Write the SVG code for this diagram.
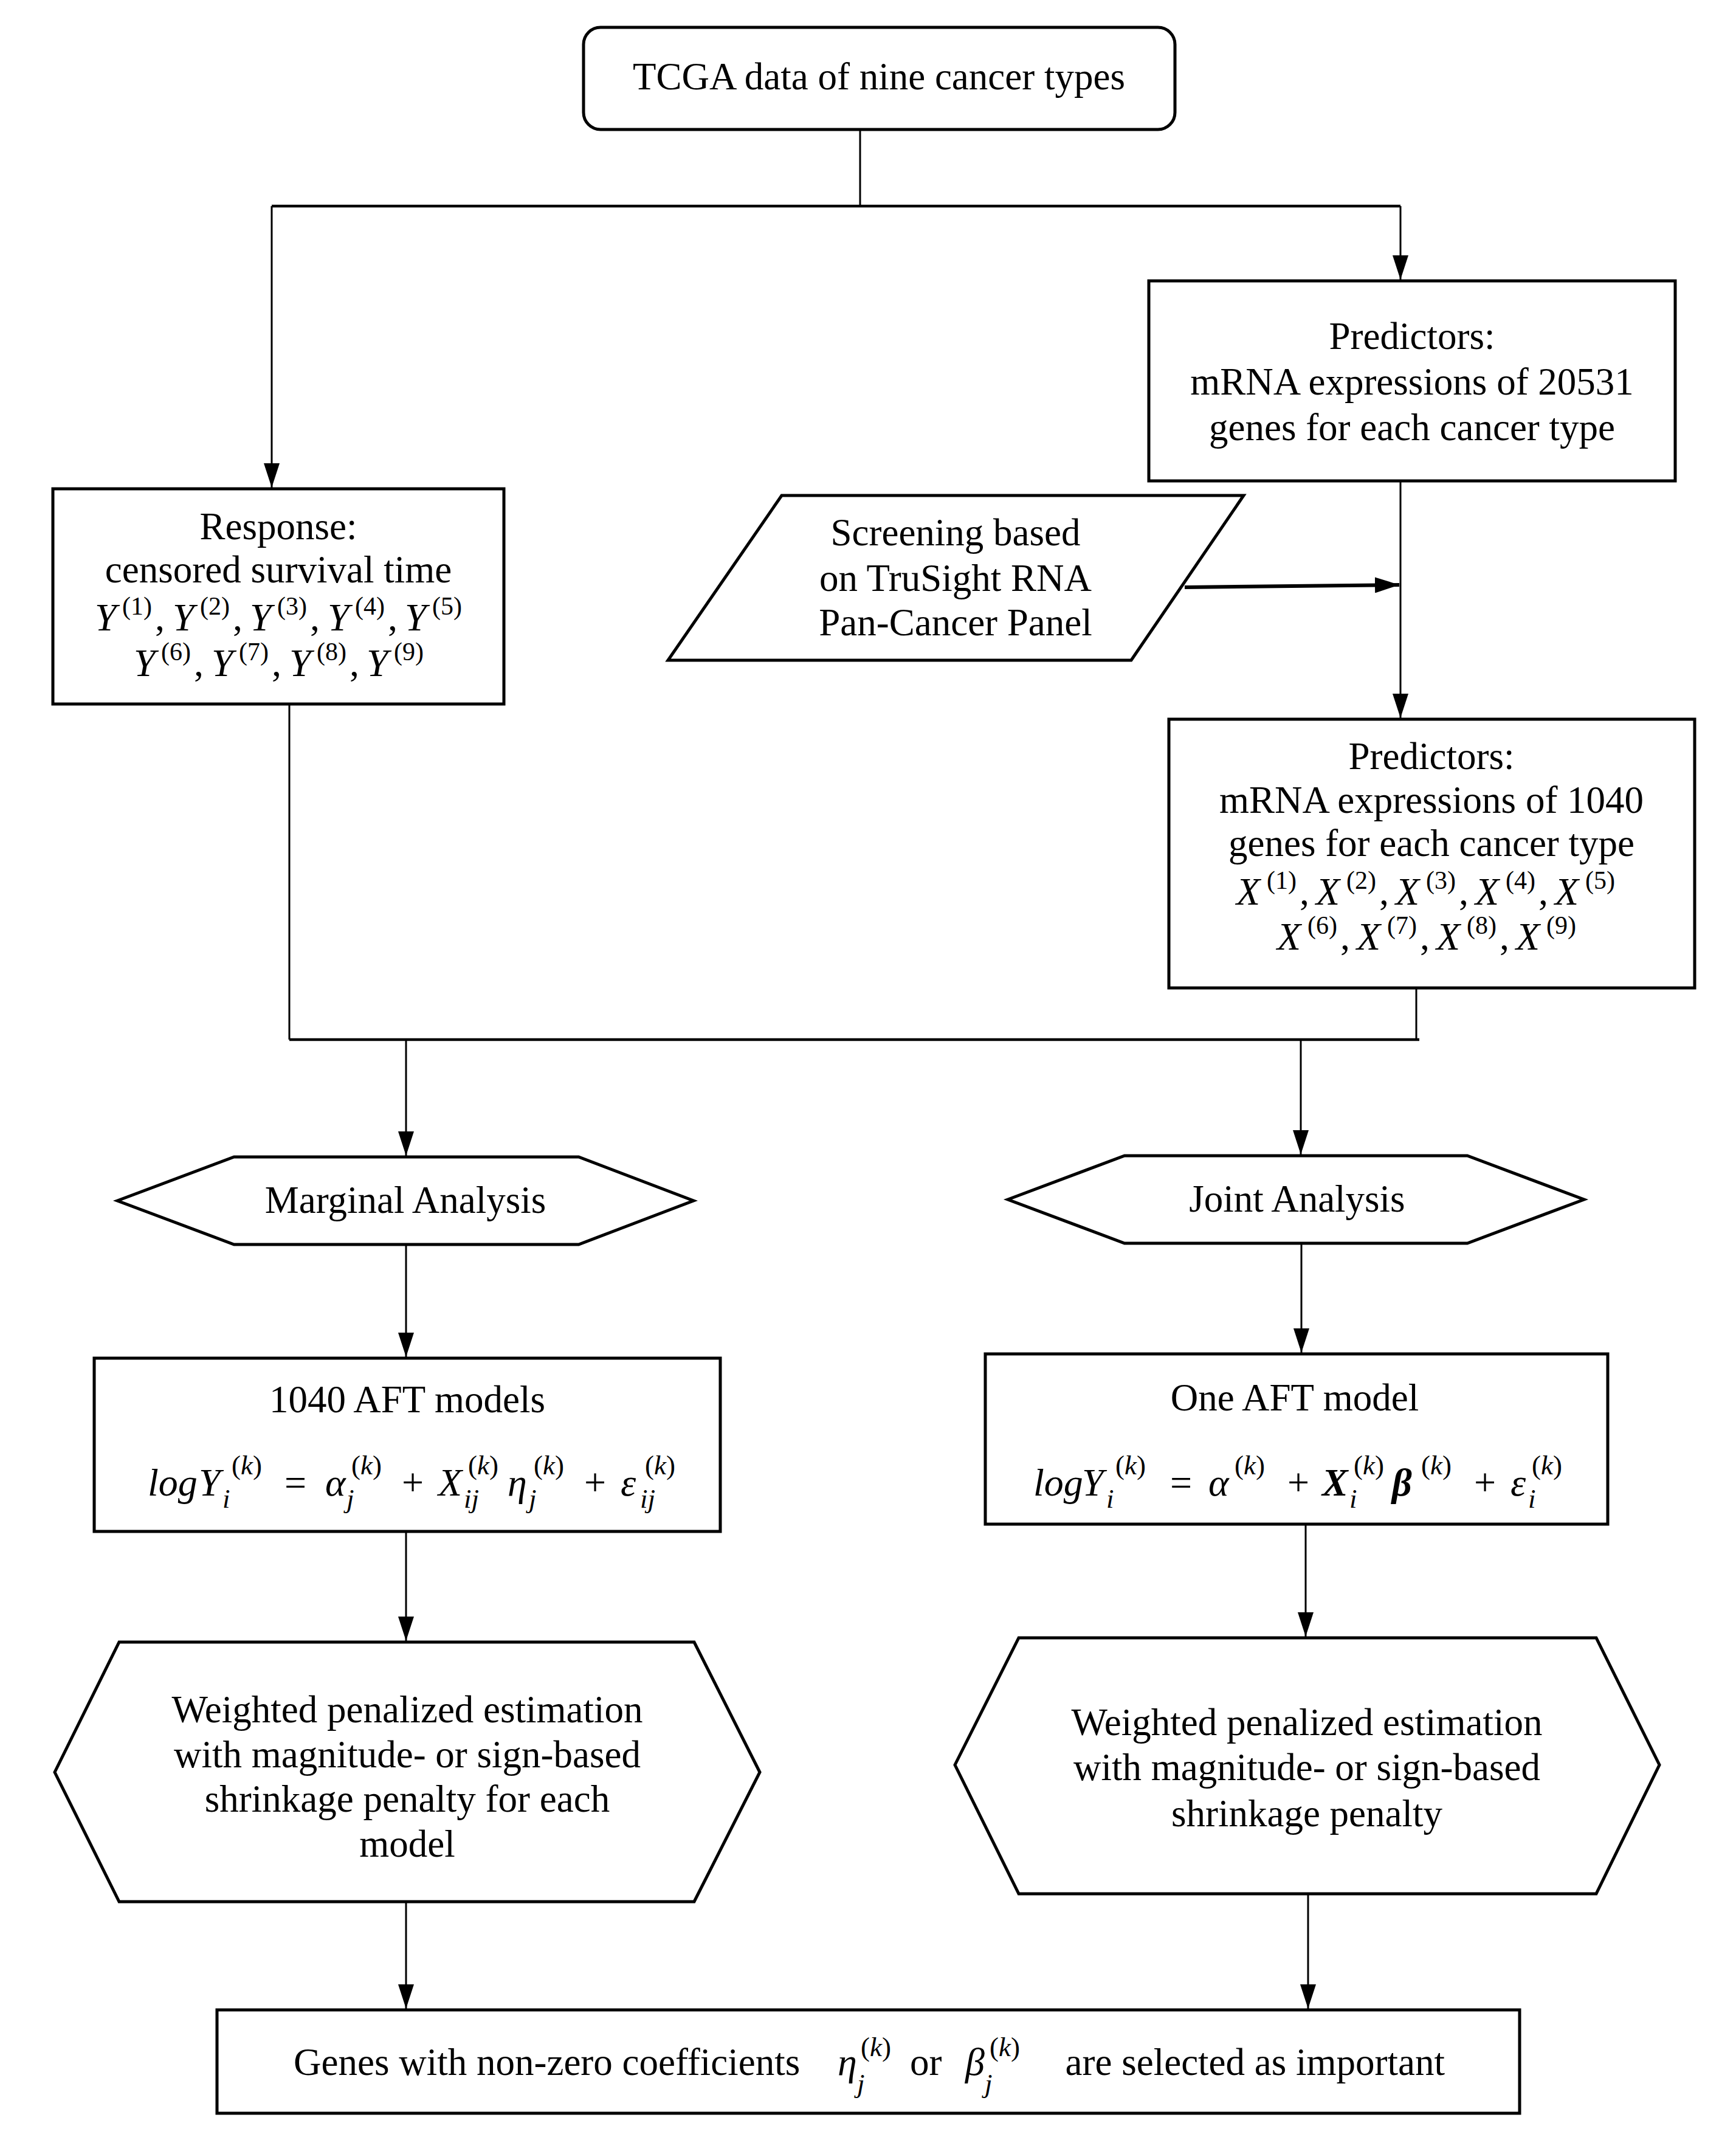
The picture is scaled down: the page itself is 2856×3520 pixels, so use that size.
<svg xmlns="http://www.w3.org/2000/svg" width="2856" height="3520" viewBox="0 0 2856 3520">
<style>
.t{font-family:"Liberation Serif","Times New Roman",serif;font-size:63px;fill:#000}
.c{text-anchor:middle}
.m{font-family:"Liberation Serif","Times New Roman",serif;font-size:64px;font-style:italic;fill:#000}
.s{font-size:42px}
.k{font-size:45px}
.u{font-style:normal}
.b{font-weight:bold}
.box{fill:#fff;stroke:#000;stroke-width:5}
.ln{fill:none;stroke:#000;stroke-width:3}
.lt{fill:none;stroke:#000;stroke-width:4.5}
</style>
<defs>
<marker id="ah" markerUnits="userSpaceOnUse" markerWidth="40" markerHeight="26" refX="40" refY="13" orient="auto" viewBox="0 0 40 26"><path d="M0,0 L40,13 L0,26 z" fill="#000"/></marker>
</defs>
<rect width="2856" height="3520" fill="#fff"/>

<g id="connectors">
<path class="ln" d="M1415,213 V339"/>
<path class="lt" d="M447,339 H2304"/>
<path class="ln" d="M447,339 V802" marker-end="url(#ah)"/>
<path class="ln" d="M2304,339 V460" marker-end="url(#ah)"/>
<path class="ln" d="M2304,791 V1181" marker-end="url(#ah)"/>
<path d="M1949,966 L2302,962" fill="none" stroke="#000" stroke-width="6" marker-end="url(#ah)"/>
<path class="ln" d="M476,1158 V1710"/>
<path class="ln" d="M2330,1625 V1710"/>
<path class="lt" d="M476,1710 H2335"/>
<path class="ln" d="M668,1710 V1901" marker-end="url(#ah)"/>
<path class="ln" d="M2140,1710 V1899" marker-end="url(#ah)"/>
<path class="ln" d="M668,2047 V2232" marker-end="url(#ah)"/>
<path class="ln" d="M2141,2045 V2225" marker-end="url(#ah)"/>
<path class="ln" d="M668,2519 V2699" marker-end="url(#ah)"/>
<path class="ln" d="M2148,2507 V2692" marker-end="url(#ah)"/>
<path class="ln" d="M668,3128 V3304" marker-end="url(#ah)"/>
<path class="ln" d="M2152,3115 V3304" marker-end="url(#ah)"/>
</g>

<g id="tcga">
<rect class="box" x="960" y="45" width="973" height="168" rx="28"/>
<text class="t c" x="1446" y="147">TCGA data of nine cancer types</text>
</g>

<g id="predictors1">
<rect class="box" x="1890" y="462" width="866" height="329"/>
<text class="t c" x="2323" y="574">Predictors:</text>
<text class="t c" x="2323" y="649">mRNA expressions of 20531</text>
<text class="t c" x="2323" y="724">genes for each cancer type</text>
</g>

<g id="response">
<rect class="box" x="87" y="804" width="742" height="354"/>
<text class="t c" x="458" y="887">Response:</text>
<text class="t c" x="458" y="958">censored survival time</text>
<text class="m"><tspan x="156" y="1037">Y</tspan><tspan class="s u" x="201" y="1011">(1)</tspan><tspan class="u" x="255" y="1037">,</tspan><tspan x="284">Y</tspan><tspan class="s u" x="329" y="1011">(2)</tspan><tspan class="u" x="383" y="1037">,</tspan><tspan x="411">Y</tspan><tspan class="s u" x="456" y="1011">(3)</tspan><tspan class="u" x="510" y="1037">,</tspan><tspan x="539">Y</tspan><tspan class="s u" x="584" y="1011">(4)</tspan><tspan class="u" x="638" y="1037">,</tspan><tspan x="666">Y</tspan><tspan class="s u" x="711" y="1011">(5)</tspan></text>
<text class="m"><tspan x="220" y="1112">Y</tspan><tspan class="s u" x="265" y="1086">(6)</tspan><tspan class="u" x="319" y="1112">,</tspan><tspan x="348">Y</tspan><tspan class="s u" x="393" y="1086">(7)</tspan><tspan class="u" x="447" y="1112">,</tspan><tspan x="476">Y</tspan><tspan class="s u" x="521" y="1086">(8)</tspan><tspan class="u" x="575" y="1112">,</tspan><tspan x="603">Y</tspan><tspan class="s u" x="648" y="1086">(9)</tspan></text>
</g>

<g id="screening">
<path class="box" d="M1286,815 H2046 L1861,1086 H1099 Z"/>
<text class="t c" x="1572" y="897">Screening based</text>
<text class="t c" x="1572" y="972">on TruSight RNA</text>
<text class="t c" x="1572" y="1045">Pan-Cancer Panel</text>
</g>

<g id="predictors2">
<rect class="box" x="1923" y="1183" width="865" height="442"/>
<text class="t c" x="2355" y="1265">Predictors:</text>
<text class="t c" x="2355" y="1337">mRNA expressions of 1040</text>
<text class="t c" x="2355" y="1408">genes for each cancer type</text>
<text class="m"><tspan x="2034" y="1488">X</tspan><tspan class="s u" x="2084" y="1462">(1)</tspan><tspan class="u" x="2138" y="1488">,</tspan><tspan x="2165">X</tspan><tspan class="s u" x="2215" y="1462">(2)</tspan><tspan class="u" x="2269" y="1488">,</tspan><tspan x="2296">X</tspan><tspan class="s u" x="2346" y="1462">(3)</tspan><tspan class="u" x="2400" y="1488">,</tspan><tspan x="2427">X</tspan><tspan class="s u" x="2477" y="1462">(4)</tspan><tspan class="u" x="2531" y="1488">,</tspan><tspan x="2558">X</tspan><tspan class="s u" x="2608" y="1462">(5)</tspan></text>
<text class="m"><tspan x="2101" y="1562">X</tspan><tspan class="s u" x="2151" y="1536">(6)</tspan><tspan class="u" x="2205" y="1562">,</tspan><tspan x="2232">X</tspan><tspan class="s u" x="2282" y="1536">(7)</tspan><tspan class="u" x="2336" y="1562">,</tspan><tspan x="2363">X</tspan><tspan class="s u" x="2413" y="1536">(8)</tspan><tspan class="u" x="2467" y="1562">,</tspan><tspan x="2494">X</tspan><tspan class="s u" x="2544" y="1536">(9)</tspan></text>
</g>

<g id="marginal">
<path class="box" d="M193,1975 L385,1903 H952 L1141,1975 L952,2047 H385 Z"/>
<text class="t c" x="667" y="1995">Marginal Analysis</text>
</g>

<g id="joint">
<path class="box" d="M1658,1973 L1850,1901 H2414 L2606,1973 L2414,2045 H1850 Z"/>
<text class="t c" x="2134" y="1993">Joint Analysis</text>
</g>

<g id="aft1040">
<rect class="box" x="155" y="2234" width="1030" height="285"/>
<text class="t c" x="670" y="2323">1040 AFT models</text>
<text class="m"><tspan x="243" y="2460">log</tspan><tspan x="327">Y</tspan><tspan class="k" x="366" y="2480">i</tspan><tspan class="k u" x="381" y="2425">(</tspan><tspan class="k">k</tspan><tspan class="k u">)</tspan><tspan class="u" x="468" y="2460">=</tspan><tspan x="535">α</tspan><tspan class="k" x="570" y="2480">j</tspan><tspan class="k u" x="578" y="2425">(</tspan><tspan class="k">k</tspan><tspan class="k u">)</tspan><tspan class="u" x="661" y="2460">+</tspan><tspan x="721">X</tspan><tspan class="k" x="763" y="2480">ij</tspan><tspan class="k u" x="770" y="2425">(</tspan><tspan class="k">k</tspan><tspan class="k u">)</tspan><tspan x="835" y="2460">η</tspan><tspan class="k" x="870" y="2480">j</tspan><tspan class="k u" x="878" y="2425">(</tspan><tspan class="k">k</tspan><tspan class="k u">)</tspan><tspan class="u" x="961" y="2460">+</tspan><tspan x="1021">ε</tspan><tspan class="k" x="1053" y="2480">ij</tspan><tspan class="k u" x="1061" y="2425">(</tspan><tspan class="k">k</tspan><tspan class="k u">)</tspan></text>
</g>

<g id="aft1">
<rect class="box" x="1621" y="2227" width="1024" height="280"/>
<text class="t c" x="2130" y="2320">One AFT model</text>
<text class="m"><tspan x="1700" y="2460">log</tspan><tspan x="1780">Y</tspan><tspan class="k" x="1820" y="2480">i</tspan><tspan class="k u" x="1835" y="2425">(</tspan><tspan class="k">k</tspan><tspan class="k u">)</tspan><tspan class="u" x="1925" y="2460">=</tspan><tspan x="1988">α</tspan><tspan class="k u" x="2031" y="2425">(</tspan><tspan class="k">k</tspan><tspan class="k u">)</tspan><tspan class="u" x="2118" y="2460">+</tspan><tspan class="b" x="2175">X</tspan><tspan class="k" x="2220" y="2480">i</tspan><tspan class="k u" x="2227" y="2425">(</tspan><tspan class="k">k</tspan><tspan class="k u">)</tspan><tspan class="b" x="2290" y="2460">β</tspan><tspan class="k u" x="2338" y="2425">(</tspan><tspan class="k">k</tspan><tspan class="k u">)</tspan><tspan class="u" x="2425" y="2460">+</tspan><tspan x="2485">ε</tspan><tspan class="k" x="2514" y="2480">i</tspan><tspan class="k u" x="2520" y="2425">(</tspan><tspan class="k">k</tspan><tspan class="k u">)</tspan></text>
</g>

<g id="estimation1">
<path class="box" d="M90,2915 L196,2701 H1142 L1250,2915 L1142,3128 H196 Z"/>
<text class="t c" x="670" y="2833">Weighted penalized estimation</text>
<text class="t c" x="670" y="2907">with magnitude- or sign-based</text>
<text class="t c" x="670" y="2980">shrinkage penalty for each</text>
<text class="t c" x="670" y="3054">model</text>
</g>

<g id="estimation2">
<path class="box" d="M1571,2903 L1676,2694 H2626 L2730,2903 L2626,3115 H1676 Z"/>
<text class="t c" x="2150" y="2854">Weighted penalized estimation</text>
<text class="t c" x="2150" y="2928">with magnitude- or sign-based</text>
<text class="t c" x="2150" y="3004">shrinkage penalty</text>
</g>

<g id="result">
<rect class="box" x="357" y="3306" width="2143" height="170"/>
<text class="t" x="483" y="3413">Genes with non-zero coefficients</text>
<text class="m"><tspan x="1378" y="3413">η</tspan><tspan class="k" x="1410" y="3442">j</tspan><tspan class="k u" x="1416" y="3382">(</tspan><tspan class="k">k</tspan><tspan class="k u">)</tspan></text>
<text class="t" x="1497" y="3413">or</text>
<text class="m"><tspan x="1588" y="3413">β</tspan><tspan class="k" x="1620" y="3442">j</tspan><tspan class="k u" x="1628" y="3382">(</tspan><tspan class="k">k</tspan><tspan class="k u">)</tspan></text>
<text class="t" x="2377" y="3413" text-anchor="end">are selected as important</text>
</g>
</svg>
